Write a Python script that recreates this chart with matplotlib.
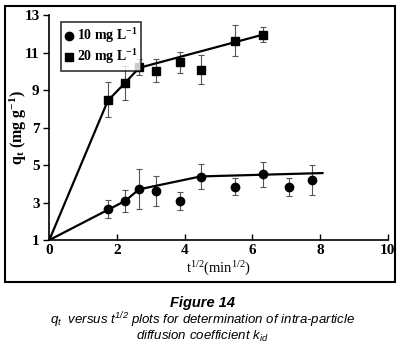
import matplotlib
matplotlib.use("Agg")
import matplotlib.pyplot as plt
from matplotlib.patches import Rectangle

# sqrt(t) values
t_half = [1.73, 2.24, 2.65, 3.16, 3.87, 4.47, 5.48, 6.32, 7.07, 7.75]
q10 = [2.66, 3.09, 3.71, 3.62, 3.09, 4.39, 3.85, 4.51, 3.85, 4.21]
err10 = [0.50, 0.60, 1.07, 0.78, 0.50, 0.67, 0.45, 0.65, 0.47, 0.79]

t_half20 = [1.73, 2.24, 2.65, 3.16, 3.87, 4.47, 5.48, 6.32]
q20 = [8.49, 9.40, 10.24, 10.06, 10.51, 10.11, 11.66, 11.98]
err20 = [0.93, 0.90, 0.43, 0.60, 0.56, 0.77, 0.83, 0.40]

# fitted piecewise lines
fit10_x = [0, 2.24, 2.65, 4.47, 8.07]
fit10_y = [1, 3.09, 3.71, 4.40, 4.58]
fit20_x = [0, 1.73, 2.24, 2.65, 6.32]
fit20_y = [1, 8.45, 9.40, 10.20, 11.98]

fig = plt.figure(figsize=(4.05, 3.52), dpi=100)
ax = fig.add_axes([0.1217, 0.318, 0.836, 0.638])

serif = "Liberation Serif"
sans = "Liberation Sans"

ax.plot(fit10_x, fit10_y, color="black", lw=1.6, zorder=2)
ax.plot(fit20_x, fit20_y, color="black", lw=1.6, zorder=2)
ax.errorbar(t_half, q10, yerr=err10, fmt="none", ecolor="#555555",
            elinewidth=0.8, capsize=2.5, capthick=0.8, zorder=1)
ax.errorbar(t_half20, q20, yerr=err20, fmt="none", ecolor="#555555",
            elinewidth=0.8, capsize=2.5, capthick=0.8, zorder=1)
p1, = ax.plot(t_half, q10, "o", color="black", ms=6, zorder=3)
p2, = ax.plot(t_half20, q20, "s", color="black", ms=5.5, zorder=3)

ax.set_xlim(0, 10)
ax.set_ylim(1, 13)
ax.set_xticks([0, 2, 4, 6, 8, 10])
ax.set_yticks([1, 3, 5, 7, 9, 11, 13])
ax.spines["top"].set_visible(False)
ax.spines["right"].set_visible(False)
ax.spines["left"].set_linewidth(1.2)
ax.spines["bottom"].set_linewidth(1.2)
ax.tick_params(axis="x", direction="in", length=4, width=1, pad=3)
ax.tick_params(axis="y", direction="out", length=4, width=1, pad=3)
for lab in ax.get_xticklabels() + ax.get_yticklabels():
    lab.set_fontfamily(serif)
    lab.set_fontweight("bold")
    lab.set_fontsize(11)

ax.set_xlabel(r"t$\mathregular{^{1/2}}$(min$\mathregular{^{1/2}}$)", fontfamily=serif,
              fontsize=10.5, labelpad=2)
ax.set_ylabel(r"q$\mathregular{_t}$ (mg g$\mathregular{^{-1}}$)", fontfamily=serif,
              fontweight="bold", fontsize=11.5)
ax.yaxis.set_label_coords(-0.06, 0.5)

leg = ax.legend([p1, p2], [r"10 mg L$\mathregular{^{-1}}$", r"20 mg L$\mathregular{^{-1}}$"],
                loc="upper left", bbox_to_anchor=(0.015, 1.0), frameon=True,
                fancybox=False, edgecolor="black", handlelength=0.5,
                handletextpad=0.3, borderpad=0.3, labelspacing=0.15,
                prop={"family": serif, "weight": "bold", "size": 10})
leg.get_frame().set_linewidth(1.2)

fig.patches.append(Rectangle((0.0123, 0.199), 0.963, 0.784, transform=fig.transFigure,
                             fill=False, edgecolor="black", lw=1.5))

fig.text(0.5, 0.139, "Figure 14", ha="center", va="center", fontfamily=sans,
         fontweight="bold", style="italic", fontsize=10.5)
fig.text(0.5, 0.091, r"q$\mathregular{_t}$  versus t$\mathregular{^{1/2}}$ plots for determination of intra-particle",
         ha="center", va="center", fontfamily=sans, style="italic", fontsize=9.5)
fig.text(0.5, 0.043, r"diffusion coefficient k$\mathregular{_{id}}$",
         ha="center", va="center", fontfamily=sans, style="italic", fontsize=9.5)

fig.savefig("out.png", dpi=100)
